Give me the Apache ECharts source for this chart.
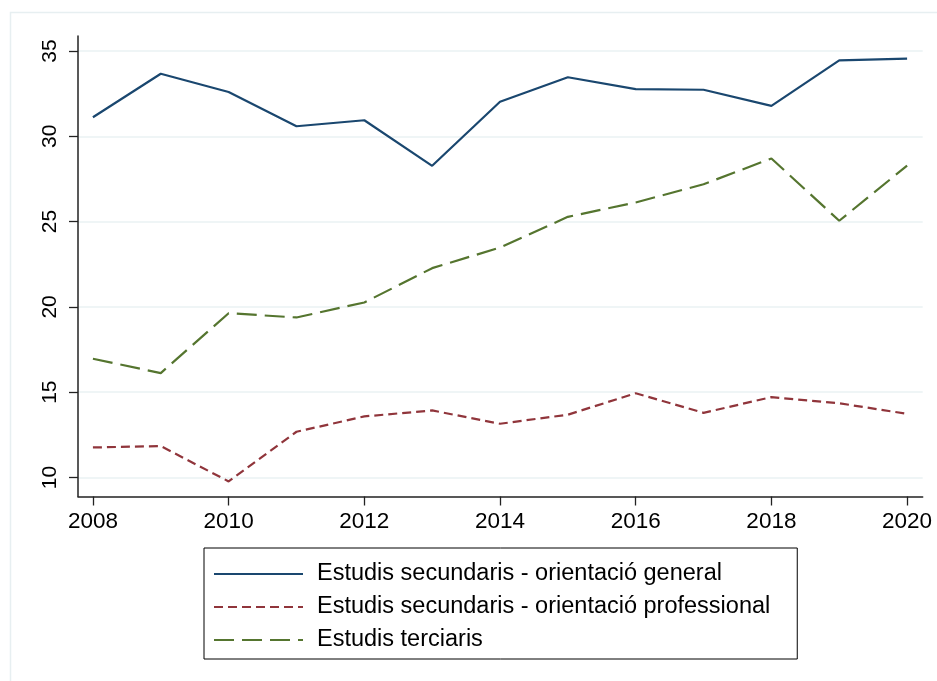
<!DOCTYPE html>
<html>
<head>
<meta charset="utf-8">
<title>Estudis</title>
<script src="https://cdn.jsdelivr.net/npm/echarts@6/dist/echarts.min.js"></script>
<style>
  html, body { margin: 0; padding: 0; background: #fff; }
  #chart { width: 937px; height: 681px; }
</style>
</head>
<body>
<div id="chart"></div>
<script>
// Years on the horizontal axis
const years = [2008, 2009, 2010, 2011, 2012, 2013, 2014, 2015, 2016, 2017, 2018, 2019, 2020];

// Series values (percent)
const general = [31.12, 33.67, 32.60, 30.59, 30.94, 28.27, 32.03, 33.46, 32.77, 32.73, 31.78, 34.45, 34.55];
const professional = [11.76, 11.84, 9.77, 12.68, 13.58, 13.93, 13.15, 13.68, 14.94, 13.79, 14.71, 14.35, 13.73];
const tertiary = [16.96, 16.12, 19.63, 19.38, 20.26, 22.27, 23.48, 25.28, 26.12, 27.19, 28.70, 25.05, 28.28];

// Series names
const names = [
  'Estudis secundaris - orientació general',
  'Estudis secundaris - orientació professional',
  'Estudis terciaris'
];

// Tick labels
const xTicks = [2008, 2010, 2012, 2014, 2016, 2018, 2020];
const yTicks = [10, 15, 20, 25, 30, 35];

const FONT = '"Liberation Sans", Arial, sans-serif';
const pairs = vals => years.map((y, i) => [y, vals[i]]);

const chart = echarts.init(document.getElementById('chart'), null, { renderer: 'canvas' });

chart.setOption({
  backgroundColor: '#ffffff',
  animation: false,
  textStyle: { fontFamily: FONT },
  graphic: [{
    type: 'rect',
    silent: true,
    z: -10,
    shape: { x: 10.5, y: 12.5, width: 960, height: 700 },
    style: { fill: '#ffffff', stroke: '#e7eff1', lineWidth: 1.5 }
  }],
  grid: {
    left: 78,
    right: 14.3,
    top: 36,
    bottom: 184.5,
    containLabel: false,
    outerBoundsMode: 'none'
  },
  xAxis: {
    type: 'value',
    min: 2007.78,
    max: 2020.23,
    axisLine: { show: true, onZero: false, lineStyle: { color: '#222', width: 1.5 } },
    axisTick: { show: true, length: 9, customValues: xTicks, lineStyle: { color: '#222', width: 1.3 } },
    axisLabel: {
      customValues: xTicks,
      margin: 14,
      fontSize: 22.5,
      color: '#000',
      fontFamily: FONT,
      formatter: v => String(v)
    },
    splitLine: { show: false }
  },
  yAxis: {
    type: 'value',
    min: 8.885,
    max: 35.88,
    axisLine: { show: true, onZero: false, lineStyle: { color: '#222', width: 1.5 } },
    axisTick: { show: true, length: 9, customValues: yTicks, lineStyle: { color: '#222', width: 1.3 } },
    axisLabel: {
      customValues: yTicks,
      rotate: 90,
      margin: 17,
      fontSize: 21,
      color: '#000',
      fontFamily: FONT,
      formatter: v => String(v)
    },
    splitLine: { show: true, lineStyle: { color: '#eaf2f3', width: 1.5 } }
  },
  legend: {
    orient: 'vertical',
    left: 204,
    top: 548,
    padding: [14, 27, 7, 9],
    itemWidth: 89,
    itemHeight: 22,
    itemGap: 9,
    borderColor: '#000',
    borderWidth: 1,
    backgroundColor: '#fff',
    itemStyle: { opacity: 0 },
    textStyle: { fontSize: 23.5, color: '#000', fontFamily: FONT, padding: [0, 0, 0, 9] },
    data: names
  },
  series: [
    {
      name: names[0],
      type: 'line',
      data: pairs(general),
      symbol: 'none',
      lineStyle: { color: '#1a476f', width: 2.2 },
      itemStyle: { color: '#1a476f' }
    },
    {
      name: names[1],
      type: 'line',
      data: pairs(professional),
      symbol: 'none',
      lineStyle: { color: '#90353b', width: 2.2, type: [9, 5] },
      itemStyle: { color: '#90353b' }
    },
    {
      name: names[2],
      type: 'line',
      data: pairs(tertiary),
      symbol: 'none',
      lineStyle: { color: '#55752f', width: 2.2, type: [20, 8] },
      itemStyle: { color: '#55752f' }
    }
  ]
});
</script>
</body>
</html>
